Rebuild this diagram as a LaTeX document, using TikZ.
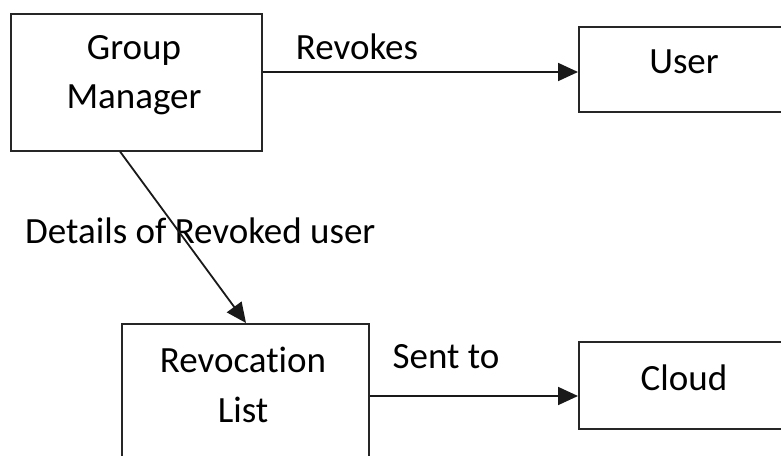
\documentclass[tikz,border=0pt]{standalone}
\usepackage{fontspec}
\setmainfont[RawFeature=-liga]{Carlito}
\usetikzlibrary{arrows.meta}
\begin{document}
\begin{tikzpicture}[x=1pt,y=-1pt,
  box/.style={draw=black!85, line width=1.5pt, anchor=north west, inner sep=0pt},
  txt/.style={font=\fontsize{37}{44}\selectfont, text=black, inner sep=0pt},
  arr/.style={draw=black!90, line width=1.8pt, -{Triangle[length=20pt,width=18pt]}}]
\useasboundingbox (0,0) rectangle (781,455);
\node[box, minimum width=251pt, minimum height=137pt] (gm) at (10,13) {};
\node[box, minimum width=240pt, minimum height=85pt] (user) at (578,26) {};
\node[box, minimum width=247pt, minimum height=160pt] (rl) at (121,323) {};
\node[box, minimum width=240pt, minimum height=87pt] (cloud) at (578,341) {};
\node[txt] (t1) at (134,50) {Group};
\node[txt] (t2) at (134,100) {Manager};
\node[txt] (t3) at (684,62) {User};
\node[txt] (t4) at (243,360) {Revocation};
\node[txt] (t5) at (243,410) {List};
\node[txt] (t6) at (684,378) {Cloud};
\node[txt] (l1) at (357,47) {Revokes};
\node[txt] (l2) at (446,357) {Sent to};
\node[txt, anchor=west] (l3) at (25,231) {Details of Revoked user};
\coordinate (a1) at (gm.east |- 0,72);
\coordinate (b1) at (user.west |- 0,72);
\coordinate (a2) at (rl.east |- 0,396);
\coordinate (b2) at (cloud.west |- 0,396);
\coordinate (a3) at (gm.south west -| 120,0);
\coordinate (b3) at (rl.north west -| 246,0);
\draw[arr] (a1) -- (b1);
\draw[arr] (a2) -- (b2);
\draw[arr] (a3) -- (b3);
\end{tikzpicture}
\end{document}
